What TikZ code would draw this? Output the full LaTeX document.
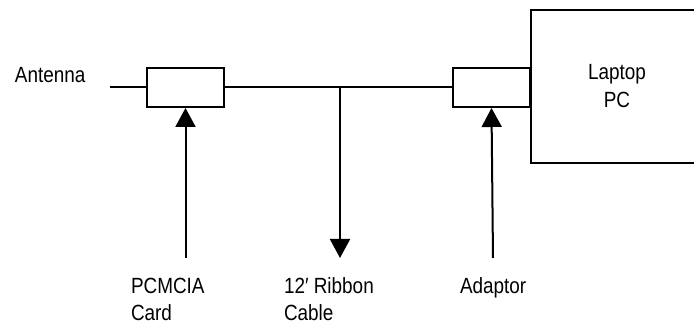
\documentclass[tikz,border=0pt]{standalone}
\usepackage{fontspec}
\setmainfont{Liberation Sans}[FakeStretch=0.86]
\usetikzlibrary{arrows.meta}
\begin{document}
\begin{tikzpicture}[x=1pt,y=-1pt,line width=2pt,
  box/.style={draw,inner sep=0,minimum width=77pt,minimum height=39pt},
  lbl/.style={inner sep=0,anchor=base west,align=left,font=\fontsize{22}{27}\selectfont},
  arr/.style={-{Triangle[length=19pt,width=20pt]}}]
\useasboundingbox (0,0) rectangle (694,328);
\node[draw,inner sep=0,minimum width=172pt,minimum height=153pt,align=center,font=\fontsize{22}{28}\selectfont] (pc) at (617,86.5) {Laptop\\PC};
\node[box] (card) at (185.5,87.5) {};\node[box,anchor=east] (adp) at (531,87.5) {};
\node[lbl] (ant) at (14,83) {Antenna};
\coordinate (antend) at (110,87.5);\coordinate (tee) at (340,87.5);
\draw (antend)--(card.west);\draw (card.east)--(adp.west);
\foreach \n/\x in {c1/185.5,c2/340,c3/493}{\coordinate (\n) at (\x,258);}
\draw[arr] (c1)--(card.south);\draw[arr] (tee)--(c2);\draw[arr] (c3)--(adp.south);
\node[lbl] (lcard) at (130,321) {PCMCIA\\Card};\node[lbl] (lcable) at (283,321) {12′ Ribbon\\Cable};
\node[lbl] (ladp) at (459,294) {Adaptor};
\end{tikzpicture}
\end{document}
